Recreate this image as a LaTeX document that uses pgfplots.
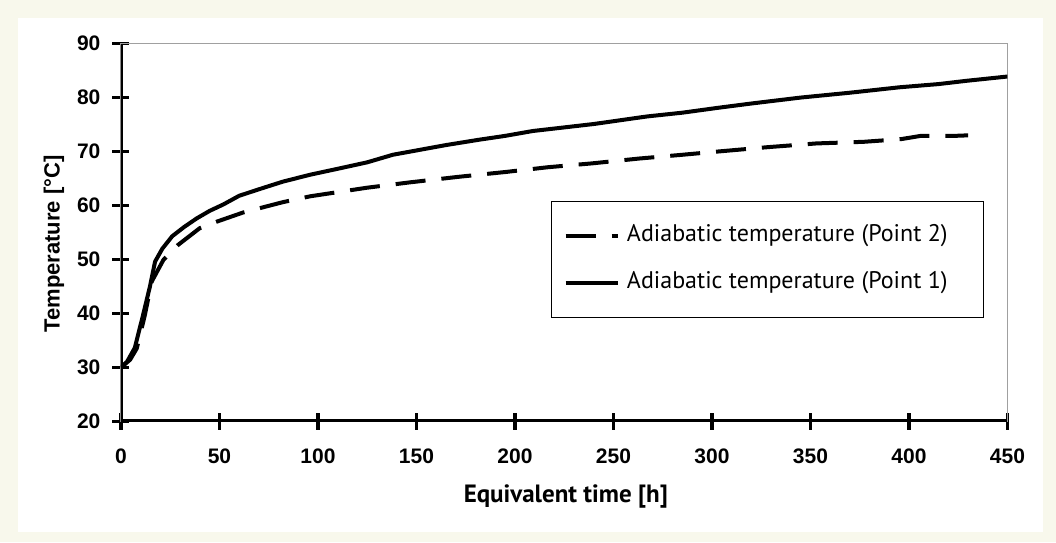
\documentclass[border=0pt]{standalone}
\usepackage{fontspec}
\setmainfont{Liberation Sans}
\newfontfamily\ptsans{PT Sans}
\usepackage{pgfplots}
\pgfplotsset{compat=1.18}
\definecolor{cream}{HTML}{F8F8EC}
\definecolor{framegray}{HTML}{A0A0A0}
\pgfplotstableread{
x y
0 30
3 31
7 33.6
11 39.4
14.7 45
17.3 49.6
21 52
26 54.3
32 56
38.4 57.6
45 59
52 60.2
60 61.8
70 63
82 64.4
96 65.7
110 66.8
125 68
138 69.4
150 70.2
165 71.2
182 72.2
195 72.9
209 73.8
240 75.1
267 76.5
285 77.2
303 78.1
320 78.9
345 80
370 80.9
395 81.9
415 82.5
429 83.1
450 83.9
}\pointone
\pgfplotstableread{
x y
0 30
4.6 31.4
8 33.5
12 39.5
15.6 45.9
21.5 49.9
29 52.7
40 55.8
48.6 57
62 58.7
82 60.6
96 61.7
125 63.3
147 64.3
171 65.3
195 66.2
217 67.1
239 67.8
263 68.7
285 69.4
303 70
328 70.8
353 71.5
377 71.8
396 72.3
406 72.9
423 72.9
430 73
}\pointtwo
\begin{document}
\begin{tikzpicture}
\fill[cream] (-60.5pt,-60.35pt) rectangle (467.5pt,210.65pt);
\fill[white] (-51.5pt,-55.35pt) rectangle (461pt,201.65pt);
\begin{axis}[
  at={(0,0)}, anchor=south west,
  scale only axis, width=443.25pt, height=188.85pt,
  xmin=0, xmax=450, ymin=20, ymax=90,
  xtick={0,50,...,450}, ytick={20,30,...,90},
  axis line style={framegray, line width=0.5pt},
  xtick pos=bottom, ytick pos=left,
  tick align=center, major tick length=8.5pt,
  major tick style={black, line width=1.8pt},
  /pgf/number format/assume math mode=true,
  ticklabel style={font=\bfseries\fontsize{10.5}{12}\selectfont},
  xticklabel style={yshift=-6pt},
  yticklabel style={xshift=-2.5pt},
  xlabel={Equivalent time [h]},
  ylabel={Temperature [°C]},
  xlabel style={at={(axis description cs:0.5018,-0.1996)}, anchor=center, font=\ptsans\bfseries\fontsize{12.5}{14}\selectfont},
  ylabel style={at={(axis description cs:-0.0756,0.4696)}, anchor=center, font=\bfseries\fontsize{11}{13}\selectfont},
  legend style={at={(axis description cs:0.4847,0.5841)}, anchor=north west,
    draw=black, line width=0.6pt, fill=white,
    font=\ptsans\fontsize{12}{14}\selectfont,
    inner xsep=0pt, inner ysep=11.35pt, row sep=11.3pt, column sep=0pt,
    nodes={inner sep=0pt, text height=9pt, text depth=3pt}},
  legend cell align=left,
  legend image code/.code={\path[draw=none] (0pt,0pt) -- (37.85pt,0pt);\draw[#1] (7.15pt,0pt) -- (33.15pt,0pt);},
]
\addplot[black, line width=2pt, dash pattern=on 15pt off 8pt] table[x=x,y=y] {\pointtwo};
\addlegendentry{\makebox[178.3pt][l]{Adiabatic temperature (Point 2)}}
\addplot[black, line width=2pt] table[x=x,y=y] {\pointone};
\addlegendentry{\makebox[178.3pt][l]{Adiabatic temperature (Point 1)}}
\draw[black, line width=2pt] (axis cs:0,90) -- (axis cs:0,20) -- (axis cs:450,20);
\end{axis}
\end{tikzpicture}
\end{document}
